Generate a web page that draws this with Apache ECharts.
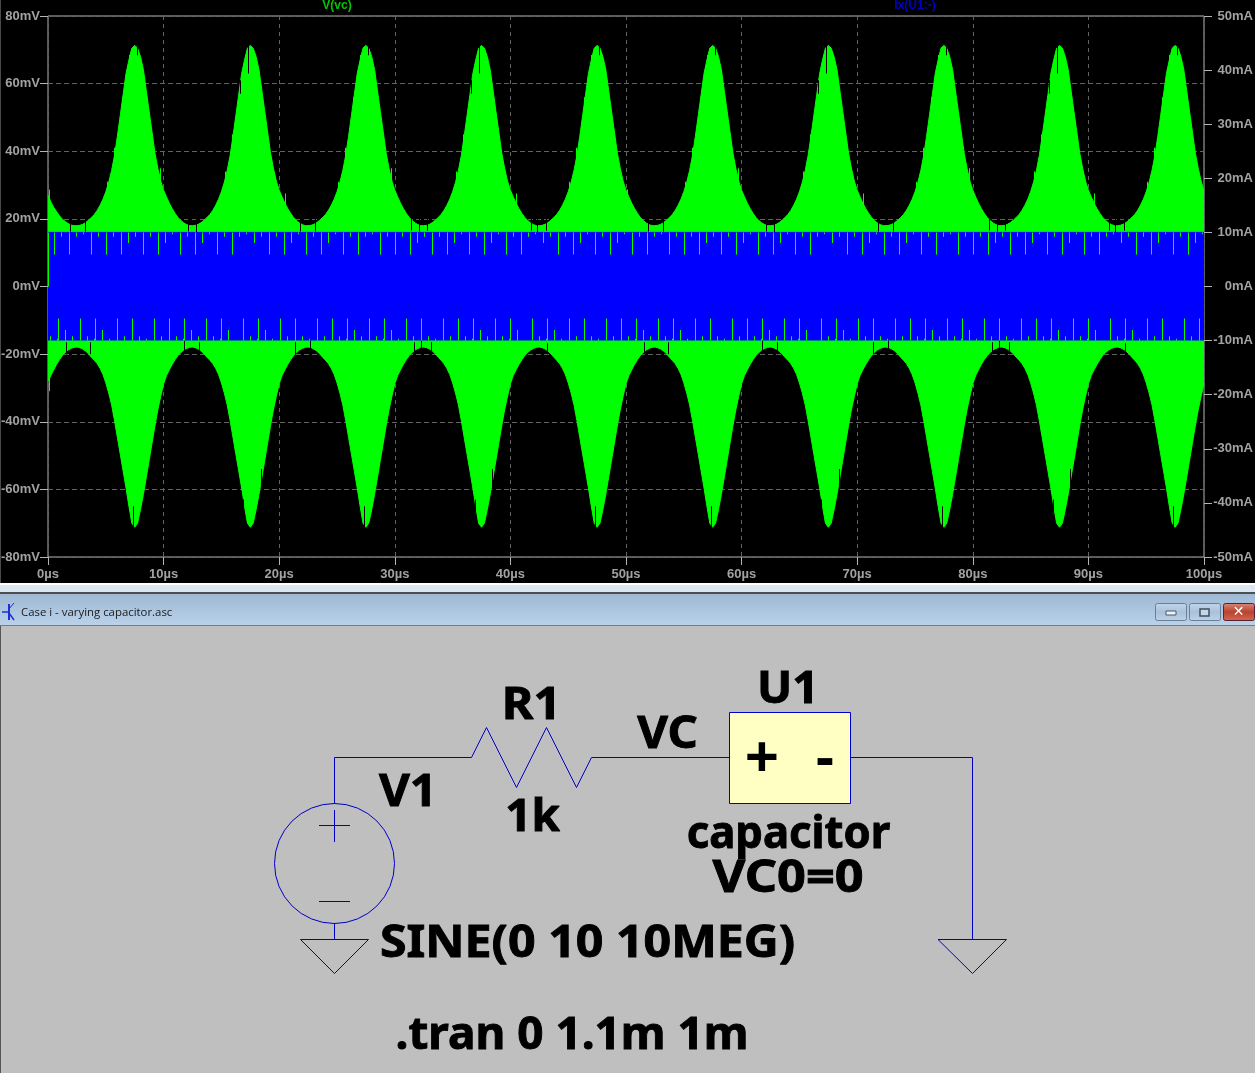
<!DOCTYPE html>
<html>
<head>
<meta charset="utf-8">
<style>html,body{margin:0;padding:0;background:#000;overflow:hidden}#c{width:1255px;height:1073px}</style>
<script src="https://cdn.jsdelivr.net/npm/echarts@6/dist/echarts.min.js"></script>
</head>
<body>
<div id="c"></div>
<script>
// ---- waveform values, one row per 10 µs, one value per 0.25 µs ----
const envelopeStepUs = 0.25;
const vcUpperMv = [
27.0,25.0,23.4,22.1,20.9,19.9,19.2,18.6,18.2,18.0,18.0,18.1,18.4,18.9,19.6,20.4,21.3,22.5,24.0,25.8,28.0,30.8,34.3,38.7,44.4,50.6,56.8,63.0,67.0,70.5,71.3,70.5,68.0,64.2,58.0,51.8,45.7,39.5,35.0,31.2,
28.5,26.5,24.6,23.0,21.6,20.4,19.5,18.8,18.3,18.0,18.0,18.1,18.4,18.9,19.6,20.4,21.3,22.5,24.0,25.8,28.0,30.8,34.3,38.7,44.4,50.6,56.8,63.0,67.0,70.5,71.3,70.5,68.0,64.2,58.0,51.8,45.7,39.5,35.0,31.2,
28.5,26.5,24.6,23.0,21.6,20.4,19.5,18.8,18.3,18.0,18.0,18.1,18.4,18.9,19.6,20.4,21.3,22.5,24.0,25.8,28.0,30.8,34.3,38.7,44.4,50.6,56.8,63.0,67.0,70.5,71.3,70.5,68.0,64.2,58.0,51.8,45.7,39.5,35.0,31.2,
28.5,26.5,24.6,23.0,21.6,20.4,19.5,18.8,18.3,18.0,18.0,18.1,18.4,18.9,19.6,20.4,21.3,22.5,24.0,25.8,28.0,30.8,34.3,38.7,44.4,50.6,56.8,63.0,67.0,70.5,71.3,70.5,68.0,64.2,58.0,51.8,45.7,39.5,35.0,31.2,
28.5,26.5,24.6,23.0,21.6,20.4,19.5,18.8,18.3,18.0,18.0,18.1,18.4,18.9,19.6,20.4,21.3,22.5,24.0,25.8,28.0,30.8,34.3,38.7,44.4,50.6,56.8,63.0,67.0,70.5,71.3,70.5,68.0,64.2,58.0,51.8,45.7,39.5,35.0,31.2,
28.5,26.5,24.6,23.0,21.6,20.4,19.5,18.8,18.3,18.0,18.0,18.1,18.4,18.9,19.6,20.4,21.3,22.5,24.0,25.8,28.0,30.8,34.3,38.7,44.4,50.6,56.8,63.0,67.0,70.5,71.3,70.5,68.0,64.2,58.0,51.8,45.7,39.5,35.0,31.2,
28.5,26.5,24.6,23.0,21.6,20.4,19.5,18.8,18.3,18.0,18.0,18.1,18.4,18.9,19.6,20.4,21.3,22.5,24.0,25.8,28.0,30.8,34.3,38.7,44.4,50.6,56.8,63.0,67.0,70.5,71.3,70.5,68.0,64.2,58.0,51.8,45.7,39.5,35.0,31.2,
28.5,26.5,24.6,23.0,21.6,20.4,19.5,18.8,18.3,18.0,18.0,18.1,18.4,18.9,19.6,20.4,21.3,22.5,24.0,25.8,28.0,30.8,34.3,38.7,44.4,50.6,56.8,63.0,67.0,70.5,71.3,70.5,68.0,64.2,58.0,51.8,45.7,39.5,35.0,31.2,
28.5,26.5,24.6,23.0,21.6,20.4,19.5,18.8,18.3,18.0,18.0,18.1,18.4,18.9,19.6,20.4,21.3,22.5,24.0,25.8,28.0,30.8,34.3,38.7,44.4,50.6,56.8,63.0,67.0,70.5,71.3,70.5,68.0,64.2,58.0,51.8,45.7,39.5,35.0,31.2,
28.5,26.5,24.6,23.0,21.6,20.4,19.5,18.8,18.3,18.0,18.0,18.1,18.4,18.9,19.6,20.4,21.3,22.5,24.0,25.8,28.0,30.8,34.3,38.7,44.4,50.6,56.8,63.0,67.0,70.5,71.3,70.5,68.0,64.2,58.0,51.8,45.7,39.5,35.0,31.2,
28.3];
const vcLowerMv = [
-28.0,-26.3,-24.6,-23.0,-21.6,-20.4,-19.5,-18.8,-18.3,-18.0,-17.9,-18.1,-18.5,-19.1,-19.9,-20.9,-21.8,-22.8,-24.2,-26.0,-28.5,-31.5,-35.0,-39.6,-44.6,-49.6,-54.6,-59.6,-65.0,-70.0,-71.2,-70.0,-66.0,-61.5,-56.5,-51.4,-46.3,-41.2,-36.5,-32.5,
-28.8,-26.3,-24.6,-23.0,-21.6,-20.4,-19.5,-18.8,-18.3,-18.0,-17.9,-18.1,-18.5,-19.1,-19.9,-20.9,-21.8,-22.8,-24.2,-26.0,-28.5,-31.5,-35.0,-39.6,-44.6,-49.6,-54.6,-59.6,-65.0,-70.0,-71.2,-70.0,-66.0,-61.5,-56.5,-51.4,-46.3,-41.2,-36.5,-32.5,
-28.8,-26.3,-24.6,-23.0,-21.6,-20.4,-19.5,-18.8,-18.3,-18.0,-17.9,-18.1,-18.5,-19.1,-19.9,-20.9,-21.8,-22.8,-24.2,-26.0,-28.5,-31.5,-35.0,-39.6,-44.6,-49.6,-54.6,-59.6,-65.0,-70.0,-71.2,-70.0,-66.0,-61.5,-56.5,-51.4,-46.3,-41.2,-36.5,-32.5,
-28.8,-26.3,-24.6,-23.0,-21.6,-20.4,-19.5,-18.8,-18.3,-18.0,-17.9,-18.1,-18.5,-19.1,-19.9,-20.9,-21.8,-22.8,-24.2,-26.0,-28.5,-31.5,-35.0,-39.6,-44.6,-49.6,-54.6,-59.6,-65.0,-70.0,-71.2,-70.0,-66.0,-61.5,-56.5,-51.4,-46.3,-41.2,-36.5,-32.5,
-28.8,-26.3,-24.6,-23.0,-21.6,-20.4,-19.5,-18.8,-18.3,-18.0,-17.9,-18.1,-18.5,-19.1,-19.9,-20.9,-21.8,-22.8,-24.2,-26.0,-28.5,-31.5,-35.0,-39.6,-44.6,-49.6,-54.6,-59.6,-65.0,-70.0,-71.2,-70.0,-66.0,-61.5,-56.5,-51.4,-46.3,-41.2,-36.5,-32.5,
-28.8,-26.3,-24.6,-23.0,-21.6,-20.4,-19.5,-18.8,-18.3,-18.0,-17.9,-18.1,-18.5,-19.1,-19.9,-20.9,-21.8,-22.8,-24.2,-26.0,-28.5,-31.5,-35.0,-39.6,-44.6,-49.6,-54.6,-59.6,-65.0,-70.0,-71.2,-70.0,-66.0,-61.5,-56.5,-51.4,-46.3,-41.2,-36.5,-32.5,
-28.8,-26.3,-24.6,-23.0,-21.6,-20.4,-19.5,-18.8,-18.3,-18.0,-17.9,-18.1,-18.5,-19.1,-19.9,-20.9,-21.8,-22.8,-24.2,-26.0,-28.5,-31.5,-35.0,-39.6,-44.6,-49.6,-54.6,-59.6,-65.0,-70.0,-71.2,-70.0,-66.0,-61.5,-56.5,-51.4,-46.3,-41.2,-36.5,-32.5,
-28.8,-26.3,-24.6,-23.0,-21.6,-20.4,-19.5,-18.8,-18.3,-18.0,-17.9,-18.1,-18.5,-19.1,-19.9,-20.9,-21.8,-22.8,-24.2,-26.0,-28.5,-31.5,-35.0,-39.6,-44.6,-49.6,-54.6,-59.6,-65.0,-70.0,-71.2,-70.0,-66.0,-61.5,-56.5,-51.4,-46.3,-41.2,-36.5,-32.5,
-28.8,-26.3,-24.6,-23.0,-21.6,-20.4,-19.5,-18.8,-18.3,-18.0,-17.9,-18.1,-18.5,-19.1,-19.9,-20.9,-21.8,-22.8,-24.2,-26.0,-28.5,-31.5,-35.0,-39.6,-44.6,-49.6,-54.6,-59.6,-65.0,-70.0,-71.2,-70.0,-66.0,-61.5,-56.5,-51.4,-46.3,-41.2,-36.5,-32.5,
-28.8,-26.3,-24.6,-23.0,-21.6,-20.4,-19.5,-18.8,-18.3,-18.0,-17.9,-18.1,-18.5,-19.1,-19.9,-20.9,-21.8,-22.8,-24.2,-26.0,-28.5,-31.5,-35.0,-39.6,-44.6,-49.6,-54.6,-59.6,-65.0,-70.0,-71.2,-70.0,-66.0,-61.5,-56.5,-51.4,-46.3,-41.2,-36.5,-32.5,
-28.6];
// current band (right axis, mA)
const currentTimesUs = [0, 100];
const currentUpperMa = [10, 10];
const currentLowerMa = [-10, -10];
// green slivers showing through the current band: times in µs, grouped by the level they reach
const topLevelsMa = {long: 5.9, mid: 8.05, short: 9.2, tiny: 9.65};
const bottomLevelsMa = {long: -5.9, mid: -8.05, short: -9.2, tiny: -9.65};
const topLongUs = [0.5,1.8,3.7,5,6.3,8.2,9.5,11.4,12.7,14.6,15.9,19.1,20.4,22.3,23.6,25.5,26.8,28.7,30,31.3,33.2,34.5,36.4,37.7,39.6,40.9,44.1,45.4,47.3,48.6,50.5,51.8,53.7,55,56.3,58.2,59.5,61.4,62.7,64.6,65.9,69.1,70.4,72.3,73.6,75.5,76.8,78.7,80,81.3,83.2,84.5,86.4,87.7,89.6,90.9,94.1,95.4,97.3,98.6];
const topMidUs = [6.9,10.1,13.3,17.8,21,24.2,31.9,35.1,38.3,42.8,46,49.2,56.9,60.1,63.3,67.8,71,74.2,81.9,85.1,88.3,92.8,96,99.2];
const topShortUs = [1.1,2.4,4.3,5.6,7.5,8.8,12,15.2,16.5,18.4,19.7,22.9,26.1,27.4,29.3,30.6,32.5,33.8,37,40.2,41.5,43.4,44.7,47.9,51.1,52.4,54.3,55.6,57.5,58.8,62,65.2,66.5,68.4,69.7,72.9,76.1,77.4,79.3,80.6,82.5,83.8,87,90.2,91.5,93.4,94.7,97.9];
const topTinyUs = [3.05,10.7,13.9,17.1,21.6,24.8,28.05,35.7,38.9,42.1,46.6,49.8,53.05,60.7,63.9,67.1,71.6,74.8,78.05,85.7,88.9,92.1,96.6,99.8];
const bottomLongUs = [0.85,2.75,4.05,5.95,7.25,9.15,10.45,11.75,13.65,14.95,16.85,18.15,20.05,21.35,23.25,24.55,25.85,27.75,29.05,30.95,32.25,34.15,35.45,36.75,38.65,39.95,41.85,43.15,45.05,46.35,48.25,49.55,50.85,52.75,54.05,55.95,57.25,59.15,60.45,61.75,63.65,64.95,66.85,68.15,70.05,71.35,73.25,74.55,75.85,77.75,79.05,80.95,82.25,84.15,85.45,86.75,88.65,89.95,91.85,93.15,95.05,96.35,98.25,99.55];
const bottomMidUs = [1.45,4.65,12.35,15.55,18.75,26.45,29.65,37.35,40.55,43.75,51.45,54.65,62.35,65.55,68.75,76.45,79.65,87.35,90.55,93.75];
const bottomShortUs = [0.15,2.05,3.35,6.55,7.85,9.75,11.05,12.95,14.25,17.45,20.65,21.95,23.85,25.15,27.05,28.35,31.55,32.85,34.75,36.05,37.95,39.25,42.45,45.65,46.95,48.85,50.15,52.05,53.35,56.55,57.85,59.75,61.05,62.95,64.25,67.45,70.65,71.95,73.85,75.15,77.05,78.35,81.55,82.85,84.75,86.05,87.95,89.25,92.45,95.65,96.95,98.85];
const bottomTinyUs = [0.75,3.95,5.3,8.5,11.65,14.85,18.05,19.4,22.6,25.75,28.95,30.3,33.5,36.65,39.85,43.05,44.4,47.6,50.75,53.95,55.3,58.5,61.65,64.85,68.05,69.4,72.6,75.75,78.95,80.3,83.5,86.65,89.85,93.05,94.4,97.6];
// thin black cuts into the green [µs, low mV, high mV] and thin green spikes [µs, from mV, to mV]
const vcCuts = [
[1.9,16.3,20],[3.2,16.3,20],[7.7,68.4,72],[12.1,16.3,20],[12.8,16.1,20],[16.6,57,61],[17.3,63,72],[21.8,16.3,20],[23.1,16.3,21],
[27.7,68.4,72],[31.4,16.5,20],[32.1,16.3,20],[32.8,16.5,20],[36.6,57,61],[37.3,63,72],[41.8,16.5,20],[42.3,16,20],[43.1,16.5,20],[47.7,68.4,72],
[51.9,16.3,20],[53.2,16.3,20],[57.7,68.4,72],[62.1,16.3,20],[62.8,16.1,20],[66.6,57,61],[67.3,63,72],[71.8,16.3,20],[73.1,16.3,21],
[77.7,68.4,72],[81.4,16.5,20],[82.1,16.3,20],[82.8,16.5,20],[86.6,57,61],[87.3,63,72],[91.8,16.5,20],[92.3,16,20],[93.1,16.5,20],[97.7,68.4,72],
[1.6,-20,-16.5],[3.6,-20,-16.5],[7.33,-72,-65],[11.8,-20,-16],[13.1,-20,-16.5],[16.9,-68,-63],[18.4,-60,-54],[21.4,-20,-16.5],[22.7,-20,-16],
[27.33,-72,-65],[31.7,-20,-16.5],[32.3,-20,-16],[33.1,-20,-16.5],[36.9,-68,-63],[38.4,-60,-54],[43.2,-20,-16.8],[47.33,-72,-65],
[51.6,-20,-16.5],[53.6,-20,-16.5],[57.33,-72,-65],[61.8,-20,-16],[63.1,-20,-16.5],[66.9,-68,-63],[68.4,-60,-54],[71.4,-20,-16.5],[72.7,-20,-16],
[77.33,-72,-65],[81.7,-20,-16.5],[82.3,-20,-16],[83.1,-20,-16.5],[86.9,-68,-63],[88.4,-60,-54],[93.2,-20,-16.8],[97.33,-72,-65]
];
const vcSpikes = [
[0.1,20,28.7],[5.1,24,31],[5.7,34,41],[6.4,46,56],[7.0,60,68.5],[9.65,25,35],[15.3,26,34],[15.9,36,45],[20.5,20,27.5],
[25.1,24,31],[25.7,34,41],[26.4,46,56],[27.0,60,68.5],[29.65,25,35],[35.3,26,34],[35.9,36,45],[40.5,20,27.5],[45.1,24,31],[45.7,34,41],[46.4,46,56],[47.0,60,68.5],
[50.1,20,28.7],[55.1,24,31],[55.7,34,41],[56.4,46,56],[57.0,60,68.5],[59.65,25,35],[65.3,26,34],[65.9,36,45],[70.5,20,27.5],
[75.1,24,31],[75.7,34,41],[76.4,46,56],[77.0,60,68.5],[79.65,25,35],[85.3,26,34],[85.9,36,45],[90.5,20,27.5],[95.1,24,31],[95.7,34,41],[96.4,46,56],[97.0,60,68.5],
[0.1,-20,-31]
];
// edge lines of the first and last sample, right-axis mA
const edgeSlivers = [[0,10,0],[100,0,-10]];
const yLeftTickMv = {min:-80,max:80,interval:20};
const yRightTickMa = {min:-50,max:50,interval:10};
const xTickUs = {min:0,max:100,interval:10};
const seriesNames = ['V(vc)','Ix(U1:-)'];
const windowTitle = 'Case i - varying capacitor.asc';
const schematicLabels = ['R1','V1','1k','VC','U1','capacitor','VC0=0','SINE(0 10 10MEG)','.tran 0 1.1m 1m','+','-'];

const timeOf = i => i * envelopeStepUs;
const GREEN = '#00ff00', BLUE = '#0000ff', AXIS = '#b4b4b4', LBL = '#a2a2a2', WIRE = '#0000c8';
const tickRows = [];
[[topLongUs,10,topLevelsMa.long],[topMidUs,10,topLevelsMa.mid],[topShortUs,10,topLevelsMa.short],[topTinyUs,10,topLevelsMa.tiny],
 [bottomLongUs,-10,bottomLevelsMa.long],[bottomMidUs,-10,bottomLevelsMa.mid],[bottomShortUs,-10,bottomLevelsMa.short],[bottomTinyUs,-10,bottomLevelsMa.tiny]]
 .forEach(([ts,a,b]) => ts.forEach(t => tickRows.push([t,a,b])));
edgeSlivers.forEach(r => tickRows.push(r));

const sliver = color => (params, api) => {
  const p0 = api.coord([api.value(0), api.value(1)]);
  const p1 = api.coord([api.value(0), api.value(2)]);
  return {type:'rect', shape:{x:Math.round(p0[0]), y:Math.min(p0[1],p1[1]), width:1, height:Math.abs(p1[1]-p0[1])},
          style:{fill:color}, silent:true};
};
const custom = (name, data, color, yAxisIndex, z) => ({name, type:'custom', z, data, yAxisIndex, renderItem:sliver(color),
  encode:{x:0,y:[1,2]}, clip:true, animation:false, silent:true});
const area = (name, xs, ys, color, yAxisIndex, z, origin) => ({name, type:'line', z, yAxisIndex, data:xs.map((x,i)=>[x,ys[i]]),
  symbol:'none', sampling:null, lineStyle:{color, width:1}, itemStyle:{color},
  areaStyle:{color, opacity:1, origin: origin===undefined?'auto':origin}, animation:false, silent:true});

const envTimes = vcUpperMv.map((_,i)=>timeOf(i));

// schematic + window chrome drawing
const g = [];
const rect = (x,y,w,h,fill,extra) => g.push(Object.assign({type:'rect',z:-1,silent:true,shape:{x,y,width:w,height:h},style:{fill}},extra||{}));
const wire = pts => g.push({type:'polyline',silent:true,z:3,shape:{points:pts},style:{stroke:WIRE,lineWidth:1,fill:null}});
const label = (text,x,y,font,fill,align,sx,heavy) => g.push({type:'text',silent:true,z:4,
  x, y, scaleX: sx||1,
  style:{text,x:0,y:0,font,fill:fill||'#000',align:align||'center',verticalAlign:'middle',
    stroke: heavy?'#000':null, lineWidth: heavy?heavy:0}});

rect(0,0,1255,583,'#000');
rect(0,0,1,583,'#4a4a4a');
rect(0,583,1255,2,'#ffffff');
rect(0,585,1255,7,'#dbe6f2');
rect(0,592,1255,2,'#4e4e4e');
rect(0,594,1255,31,{type:'linear',x:0,y:0,x2:0,y2:1,colorStops:[{offset:0,color:'#9fb9d4'},{offset:1,color:'#b9d1e9'}]});
rect(0,625,1255,1,'#7a7a7a');
rect(0,626,1255,447,'#bfbfbf');
rect(0,626,1,447,'#555');

// window buttons
const btnFill = {type:'linear',x:0,y:0,x2:0,y2:1,colorStops:[{offset:0,color:'#c3d6ea'},{offset:0.5,color:'#a9c1da'},{offset:1,color:'#bcd2e8'}]};
const btnRed = {type:'linear',x:0,y:0,x2:0,y2:1,colorStops:[{offset:0,color:'#d88a7c'},{offset:0.5,color:'#b9432e'},{offset:1,color:'#cf6a55'}]};
g.push({type:'rect',silent:true,z:2,shape:{x:1155.5,y:603.5,width:31,height:17,r:2},style:{fill:btnFill,stroke:'#6b7f96',lineWidth:1}});
g.push({type:'rect',silent:true,z:2,shape:{x:1189.5,y:603.5,width:31,height:17,r:2},style:{fill:btnFill,stroke:'#6b7f96',lineWidth:1}});
g.push({type:'rect',silent:true,z:2,shape:{x:1223.5,y:603.5,width:31,height:17,r:2},style:{fill:btnRed,stroke:'#5a2030',lineWidth:1}});
g.push({type:'rect',silent:true,z:3,shape:{x:1166,y:611,width:10,height:4},style:{fill:'#eef3f8',stroke:'#46586c',lineWidth:1}});
g.push({type:'rect',silent:true,z:3,shape:{x:1200,y:609,width:9,height:7},style:{fill:'#c7d6e6',stroke:'#3d4f63',lineWidth:1.5}});
label('✕',1238.5,612,'bold 14px "DejaVu Sans"','#ffffff');
// title-bar icon
g.push({type:'polyline',silent:true,z:3,shape:{points:[[9,604],[9,620]]},style:{stroke:'#1f2fd8',lineWidth:2,fill:null}});
g.push({type:'polyline',silent:true,z:3,shape:{points:[[2,612],[9,612]]},style:{stroke:'#1f2fd8',lineWidth:1.5,fill:null}});
g.push({type:'polyline',silent:true,z:3,shape:{points:[[14,603],[9,609]]},style:{stroke:'#1f2fd8',lineWidth:1,fill:null}});
g.push({type:'polyline',silent:true,z:3,shape:{points:[[9,613],[14,620]]},style:{stroke:'#1f2fd8',lineWidth:1.5,fill:null}});
label(windowTitle,21,612.5,'11.4px "Open Sans"','#1a1a1a','left');

// schematic wires and symbols
wire([[334.5,804],[334.5,757.5],[471.5,757.5],[486.5,727.5],[516.5,787.5],[546.5,727.5],[576.5,787.5],[591.5,757.5],[729.5,757.5]]);
wire([[850.5,757.5],[972.5,757.5],[972.5,939.5]]);
wire([[938,939.5],[1006.5,939.5],[972.5,973.5],[938,939.5]]);
wire([[334.5,923],[334.5,939.5]]);
wire([[300.5,939.5],[368.5,939.5],[334.5,973.5],[300.5,939.5]]);
wire([[319,825.5],[350,825.5]]);
wire([[334.5,810],[334.5,842]]);
wire([[319,901.5],[350,901.5]]);
g.push({type:'circle',silent:true,z:3,shape:{cx:334.5,cy:863.5,r:60},style:{stroke:WIRE,lineWidth:1,fill:null}});
g.push({type:'rect',silent:true,z:2,shape:{x:729.5,y:712.5,width:121,height:91},style:{fill:'#ffffc4',stroke:WIRE,lineWidth:1}});

const F = 'bold 45px "Noto Sans"';
const L = schematicLabels;
const H = 0.9;
label(L[0],531.5,706,F,null,null,1.075,H); label(L[1],408,793,F,null,null,1.055,H); label(L[2],532.5,818,F,null,null,1.02,H);
label(L[3],667.5,735,F,null,null,1.05,H); label(L[4],788,690,F,null,null,1.035,H);
label(L[5],788.5,835,F,null,null,0.97,H); label(L[6],788,879,F,null,null,1.12,H);
label(L[7],587.5,944,F,null,null,1.073,H); label(L[8],572,1036,F,null,null,1.02,H);
label(L[9],762,761,'bold 60px "Noto Sans"',null,null,1,0); label(L[10],825,760,'bold 56px "Noto Sans"',null,null,1,0);

// plot titles
label(seriesNames[0],337,6,'bold 12px "Liberation Sans"','#00c800');
label(seriesNames[1],915,6,'bold 12px "Liberation Sans"','#0000c8');

const tickLabel = (formatter, margin, align) => ({formatter,color:LBL,fontFamily:'Liberation Sans',fontWeight:'bold',fontSize:13,margin,padding:[2,0,0,0],align});
const chart = echarts.init(document.getElementById('c'), null, {renderer:'canvas', width:1255, height:1073});
chart.setOption({
  animation:false,
  backgroundColor:'#000',
  graphic:{elements:g},
  grid:{left:48,top:16,width:1156,height:541,show:true,borderColor:AXIS,borderWidth:1,backgroundColor:'transparent',containLabel:false,outerBoundsMode:'none'},
  xAxis:{type:'value',min:xTickUs.min,max:xTickUs.max,interval:xTickUs.interval,
    axisLine:{show:false,onZero:false},axisTick:{show:true,length:8,lineStyle:{color:AXIS}},
    axisLabel:tickLabel('{value}µs',9,'center'),
    splitLine:{show:true,lineStyle:{color:'#626262',type:[4,4],width:1}}},
  yAxis:[
    {type:'value',position:'left',min:yLeftTickMv.min,max:yLeftTickMv.max,interval:yLeftTickMv.interval,
     axisLine:{show:false,onZero:false},axisTick:{show:true,length:8,lineStyle:{color:AXIS}},
     axisLabel:tickLabel('{value}mV',8,'right'),
     splitLine:{show:true,lineStyle:{color:'#626262',type:[5,3],width:1}}},
    {type:'value',position:'right',min:yRightTickMa.min,max:yRightTickMa.max,interval:yRightTickMa.interval,
     axisLine:{show:false,onZero:false},axisTick:{show:true,length:8,lineStyle:{color:AXIS}},
     axisLabel:tickLabel('{value}mA',49,'right'),
     splitLine:{show:false}}
  ],
  series:[
    area(seriesNames[0],envTimes,vcUpperMv,GREEN,0,2),
    area(seriesNames[0]+' lower',envTimes,vcLowerMv,GREEN,0,2),
    custom('vc cuts',vcCuts,'#000',0,3),
    custom('vc spikes',vcSpikes,GREEN,0,3),
    area(seriesNames[1],currentTimesUs,currentUpperMa,BLUE,1,4,currentLowerMa[0]),
    custom('band slivers',tickRows,GREEN,1,5)
  ]
});
</script>
</body>
</html>
